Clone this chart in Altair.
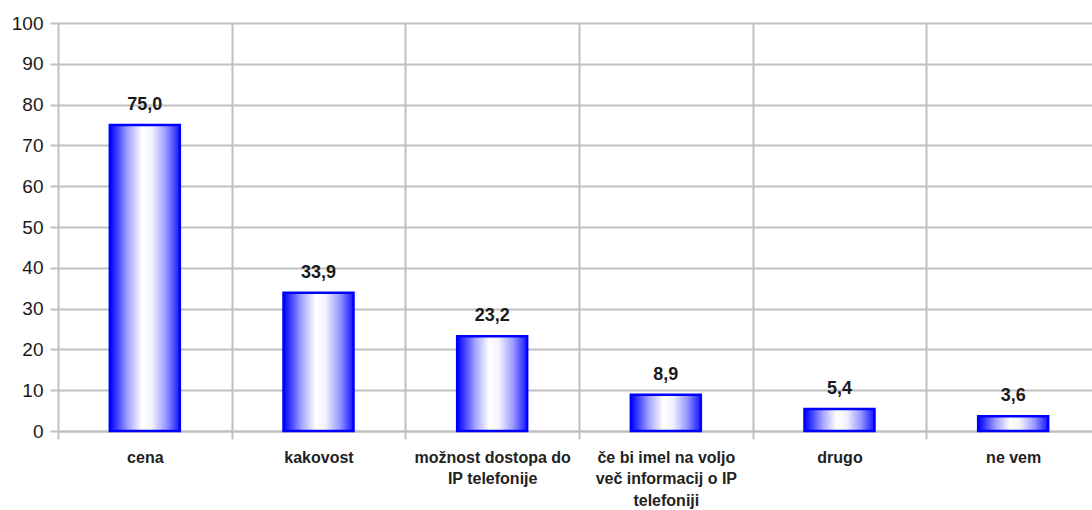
import altair as alt
import pandas as pd

# Reasons (Slovenian survey answers) and their shares in percent
categories = [
    "cena",
    "kakovost",
    "možnost dostopa do\nIP telefonije",
    "če bi imel na voljo\nveč informacij o IP\ntelefoniji",
    "drugo",
    "ne vem",
]
values = [75.0, 33.9, 23.2, 8.9, 5.4, 3.6]

df = pd.DataFrame({"razlog": categories, "delez": values})

GRID = "#c0c0c0"
FONT = "Liberation Sans"

# Horizontal blue-white-blue shading of the bars
bar_fill = alt.Gradient(
    gradient="linear",
    x1=0, x2=1, y1=0, y2=0,
    stops=[
        alt.GradientStop(color="#0000ff", offset=0),
        alt.GradientStop(color="#3c3cff", offset=0.1),
        alt.GradientStop(color="#a4a4ff", offset=0.26),
        alt.GradientStop(color="#ffffff", offset=0.46),
        alt.GradientStop(color="#f2f2ff", offset=0.6),
        alt.GradientStop(color="#9a9aff", offset=0.8),
        alt.GradientStop(color="#1414ff", offset=1),
    ],
)

x_enc = alt.X(
    "razlog:N",
    sort=categories,
    scale=alt.Scale(range=[0, 1042], paddingInner=0, paddingOuter=0),
    axis=alt.Axis(
        title=None,
        labelAngle=0,
        labelExpr="isValid(datum.value) ? split(datum.value, '\\n') : ''",
        labelFont=FONT,
        labelFontSize=16,
        labelFontWeight="bold",
        labelLineHeight=21.5,
        labelColor="#222222",
        labelPadding=10,
        labelBaseline="top",
        labelLimit=400,
        tickBand="extent",
        tickColor=GRID,
        tickWidth=2,
        tickSize=8,
        domainColor=GRID,
        domainWidth=2,
        grid=True,
        gridColor=GRID,
        gridWidth=2,
    ),
)

y_enc = alt.Y(
    "delez:Q",
    scale=alt.Scale(domain=[0, 100], nice=False),
    axis=alt.Axis(
        title=None,
        values=list(range(0, 101, 10)),
        labelFont=FONT,
        labelFontSize=19,
        labelColor="#1a1a1a",
        labelPadding=7,
        domain=False,
        tickColor=GRID,
        tickWidth=2,
        tickSize=8,
        grid=True,
        gridColor=GRID,
        gridWidth=2,
    ),
)

bars = alt.Chart(df).mark_bar(
    size=70,
    fill=bar_fill,
    stroke="#0000ff",
    strokeWidth=2.5,
).encode(x=x_enc, y=y_enc)

labels = alt.Chart(df).transform_calculate(
    oznaka="replace(format(datum.delez, '.1f'), '.', ',')"
).mark_text(
    font=FONT,
    fontSize=18,
    fontWeight="bold",
    color="#1a1a1a",
    baseline="alphabetic",
    dy=-15,
).encode(
    x=alt.X("razlog:N", sort=categories),
    y=alt.Y("delez:Q"),
    text="oznaka:N",
)

chart = (
    alt.layer(bars, labels)
    .properties(
        width=1034,
        height=408,
        autosize=alt.AutoSizeParams(type="none"),
        padding={"left": 58, "top": 23, "right": 0, "bottom": 79},
        background="white",
    )
    .configure_view(stroke=None)
)

chart.save("out.html", embed_options={"renderer": "svg", "actions": False})
